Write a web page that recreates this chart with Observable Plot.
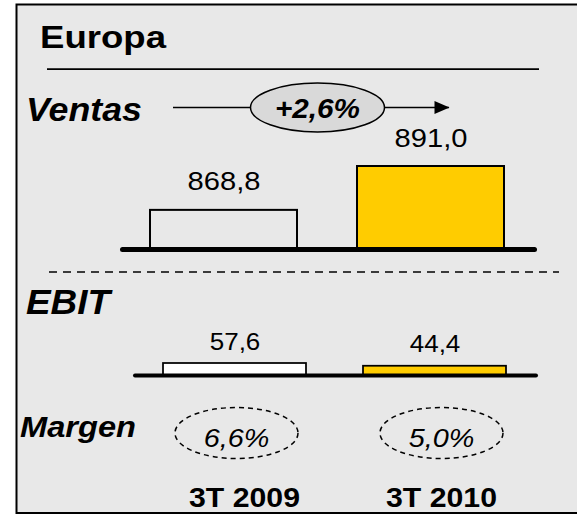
<!DOCTYPE html>
<html><head><meta charset="utf-8">
<script src="https://cdn.jsdelivr.net/npm/d3@7"></script>
<script src="https://cdn.jsdelivr.net/npm/@observablehq/plot@0.6"></script>
<style>
body{margin:0;background:#fff;}
#wrap{position:relative;width:577px;height:515px;overflow:hidden;font-family:"Liberation Sans",Arial,sans-serif;}
#wrap svg{position:absolute;left:0;top:0;}
</style></head><body>
<div id="wrap">
<svg id="chrome" width="577" height="515" font-family="Liberation Sans, Arial, sans-serif">
 <rect x="16.5" y="4.5" width="600" height="508.5" fill="#e8e8e8" stroke="#000" stroke-width="2"/>
 <text x="40" y="48" font-size="32" font-weight="bold" textLength="126" lengthAdjust="spacingAndGlyphs">Europa</text>
 <line x1="47" x2="539" y1="69" y2="69" stroke="#000" stroke-width="1.75"/>
 <text x="26" y="121" font-size="33" font-weight="bold" font-style="italic" textLength="116" lengthAdjust="spacingAndGlyphs">Ventas</text>
 <line x1="49" x2="559" y1="272" y2="272" stroke="#000" stroke-width="1.5" stroke-dasharray="8,6"/>
 <text x="26" y="314" font-size="35" font-weight="bold" font-style="italic" textLength="84" lengthAdjust="spacingAndGlyphs">EBIT</text>
 <text x="20" y="437" font-size="30" font-weight="bold" font-style="italic" textLength="116" lengthAdjust="spacingAndGlyphs">Margen</text>
</svg>
</div>
<script>
// ---- data ----
const periods = ["3T 2009", "3T 2010"];
const ventas = [868.8, 891.0];
const ebit = [57.6, 44.4];
const barFills = ["none", "#ffcc00"];
const ebitFills = ["#ffffff", "#ffcc00"];

// ---- derived ----
const fmt = v => d3.format(".1f")(v).replace(".", ",");
const rows = periods.map((p, i) => ({period: p, ventas: ventas[i], ebit: ebit[i], margen: ebit[i] / ventas[i] * 100}));
const growth = (ventas[1] / ventas[0] - 1) * 100;
const growthRow = [{row: "Ventas", from: periods[0], to: periods[1], label: "+" + fmt(growth) + "%"}];
const ventasMin = 849; // truncated axis origin of the sales bars

const FONT = '"Liberation Sans", Arial, sans-serif';
const base = {width: 577, height: 515, style: {background: "transparent", overflow: "visible", fontFamily: FONT}};

const ellipseSymbol = ratio => ({
  draw(ctx, size) {
    const ry = Math.sqrt(size / Math.PI), rx = ry * ratio, k = 0.5522848;
    ctx.moveTo(rx, 0);
    ctx.bezierCurveTo(rx, ry * k, rx * k, ry, 0, ry);
    ctx.bezierCurveTo(-rx * k, ry, -rx, ry * k, -rx, 0);
    ctx.bezierCurveTo(-rx, -ry * k, -rx * k, -ry, 0, -ry);
    ctx.bezierCurveTo(rx * k, -ry, rx, -ry * k, rx, 0);
    ctx.closePath();
  }
});
const arrowHead = {
  draw(ctx, size) {
    const r = Math.sqrt(size / Math.PI);
    ctx.moveTo(0, 0);
    ctx.lineTo(-2 * r, -0.87 * r);
    ctx.lineTo(-2 * r, 0.87 * r);
    ctx.closePath();
  }
};

// Ventas bars
const plotV = Plot.plot({
  ...base, marginLeft: 122.5, marginRight: 42.5, marginTop: 0, marginBottom: 0,
  x: {type: "band", domain: periods, range: [150, 504], paddingInner: 0.29, paddingOuter: 0, axis: null},
  y: {domain: [ventasMin, ventas[1]], range: [249, 166], axis: null},
  color: {type: "ordinal", domain: periods, range: barFills},
  marks: [
    Plot.barY(rows, {x: "period", y1: ventasMin, y2: "ventas", fill: "period", stroke: "black", strokeWidth: 2}),
    Plot.ruleY([ventasMin], {stroke: "black", strokeWidth: 5, strokeLinecap: "round"}),
    Plot.text(rows, {x: "period", y: "ventas", text: d => fmt(d.ventas), lineAnchor: "bottom", dy: -20, fontSize: 26, fill: "black"})
  ]
});

// growth annotation
const plotG = Plot.plot({
  ...base, marginLeft: 185, marginRight: 128, marginTop: 0, marginBottom: 0,
  x: {type: "point", domain: periods, range: [173, 449], padding: 0, axis: null},
  y: {type: "point", domain: ["Ventas"], range: [106.5, 106.5], padding: 0, axis: null},
  marks: [
    Plot.ruleY(growthRow, {y: "row", x1: "from", x2: "to", stroke: "black", strokeWidth: 1.5}),
    Plot.dot(growthRow, {y: "row", r: 24.5, symbol: ellipseSymbol(67 / 24.5), fill: "#d9d9d9", stroke: "black", strokeWidth: 1.5}),
    Plot.dot(growthRow, {x: "to", y: "row", r: 7.5, symbol: arrowHead, fill: "black", stroke: "none"}),
    Plot.text(growthRow, {y: "row", text: "label", fontSize: 28, fontWeight: "bold", fontStyle: "italic", dy: 1.5, fill: "black"})
  ]
});

// EBIT bars
const plotE = Plot.plot({
  ...base, marginLeft: 135, marginRight: 41, marginTop: 0, marginBottom: 0,
  x: {type: "band", domain: periods, range: [163, 506], paddingInner: 0.285, paddingOuter: 0, axis: null},
  y: {domain: [0, ebit[0]], range: [375, 363], axis: null},
  color: {type: "ordinal", domain: periods, range: ebitFills},
  marks: [
    Plot.barY(rows, {x: "period", y: "ebit", fill: "period", stroke: "black", strokeWidth: 1.75}),
    Plot.ruleY([0], {stroke: "black", strokeWidth: 4, strokeLinecap: "round"}),
    Plot.text(rows, {x: "period", y: "ebit", text: d => fmt(d.ebit), lineAnchor: "bottom", dy: -14, fontSize: 23, fill: "black"})
  ]
});

// Margen ellipses
const plotM = Plot.plot({
  ...base, marginLeft: 0, marginRight: 0, marginTop: 407, marginBottom: 57,
  x: {type: "point", domain: periods, range: [236, 441], padding: 0, axis: null},
  marks: [
    Plot.dot(rows, {x: "period", r: 25.5, symbol: ellipseSymbol(61.5 / 25.5), fill: "none", stroke: "black", strokeWidth: 1.5, strokeDasharray: "5,4"}),
    Plot.text(rows, {x: "period", text: d => fmt(d.margen) + "%", fontSize: 25, fontStyle: "italic", dy: 6, fill: "black"})
  ]
});

// period labels
const plotL = Plot.plot({
  ...base, style: {...base.style, fontSize: "28px", fontWeight: "bold"},
  marginLeft: 0, marginRight: 0, marginTop: 0, marginBottom: 35,
  x: {type: "point", domain: periods, range: [243.5, 441], padding: 0},
  marks: [
    Plot.axisX({tickSize: 0, tickPadding: 7, fontSize: 28, fontWeight: "bold", fill: "black", label: null})
  ]
});

const wrap = document.getElementById("wrap");
const stretches = [[plotV, 1.12], [plotG, 1.06], [plotE, 1.13], [plotM, 1.15], [plotL, 1.08]];
for (const [p, k] of stretches) {
  wrap.appendChild(p);
  p.querySelectorAll("text").forEach(t => {
    const w = t.getComputedTextLength();
    if (w > 0) { t.setAttribute("textLength", w * k); t.setAttribute("lengthAdjust", "spacingAndGlyphs"); }
  });
}
</script>
</body></html>
